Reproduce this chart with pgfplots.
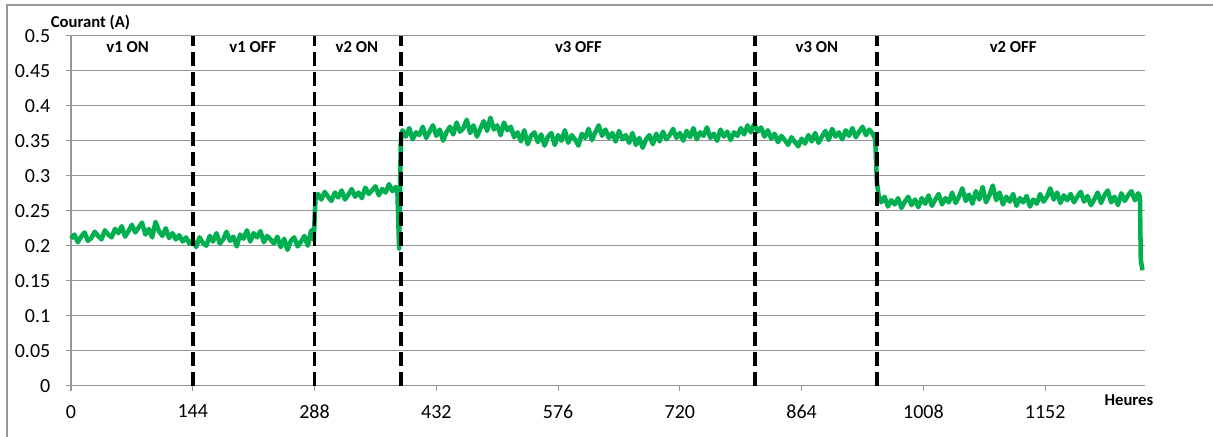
\documentclass[border=0pt]{standalone}
\usepackage{pgfplots}
\pgfplotsset{compat=1.18}
\usepackage{fontspec}
\setmainfont{Carlito}
\definecolor{exgreen}{RGB}{0,176,80}
\definecolor{gridgray}{RGB}{150,150,150}
\begin{document}
\begin{tikzpicture}
\path[use as bounding box] (-53.25pt,-37.7pt) rectangle (856.5pt,289.3pt);
\begin{axis}[
  at={(0,0)}, anchor=origin,
  width=805.5pt, height=262.5pt, scale only axis,
  xmin=0, xmax=1270, ymin=0, ymax=0.5,
  axis x line*=bottom, axis y line*=left,
  axis line style={gridgray, line width=0.9pt, -},
  xtick={0,144,288,432,576,720,864,1008,1152},
  xticklabels={0,144,288,432,576,720,864,1008,1152},
  ytick={0,0.05,0.1,0.15,0.2,0.25,0.3,0.35,0.4,0.45,0.5},
  yticklabels={0,0.05,0.1,0.15,0.2,0.25,0.3,0.35,0.4,0.45,0.5},
  ymajorgrids, grid style={gridgray, line width=0.9pt},
  tick align=outside, major tick length=4pt,
  tick style={gridgray, line width=0.9pt},
  /pgf/number format/assume math mode=true,
  ticklabel style={font=\fontsize{15}{18}\selectfont},
  xticklabel style={yshift=-7pt},
  yticklabel style={xshift=-8pt},
  clip=false,
]
\addplot[exgreen, line width=3.4pt, line join=round] coordinates {
(0,0.210)(4,0.216)(8,0.205)(12,0.213)(16,0.219)(20,0.207)(24,0.211)(28,0.220)(32,0.214)(36,0.209)
(40,0.222)(44,0.216)(48,0.212)(52,0.224)(56,0.218)(60,0.228)(64,0.213)(68,0.221)(72,0.230)(76,0.219)
(80,0.226)(84,0.233)(88,0.216)(92,0.224)(96,0.212)(100,0.234)(104,0.221)(108,0.214)(112,0.225)(116,0.211)
(120,0.218)(124,0.209)(128,0.215)(132,0.206)(136,0.212)(140,0.203)
(144,0.208)(148,0.198)(152,0.212)(156,0.204)(160,0.200)(164,0.214)(168,0.206)(172,0.218)(176,0.203)
(180,0.209)(184,0.220)(188,0.207)(192,0.213)(196,0.199)(200,0.216)(204,0.210)(208,0.222)(212,0.206)
(216,0.218)(220,0.212)(224,0.221)(228,0.205)(232,0.214)(236,0.209)(240,0.203)(244,0.213)(248,0.198)
(252,0.210)(256,0.194)(260,0.207)(264,0.212)(268,0.199)(272,0.206)(276,0.214)(280,0.200)(284,0.222)
(287,0.208)(289,0.265)
(292,0.274)(296,0.266)(300,0.277)(304,0.270)(308,0.264)(312,0.276)(316,0.269)(320,0.279)(324,0.266)
(328,0.273)(332,0.281)(336,0.270)(340,0.276)(344,0.268)(348,0.283)(352,0.274)(356,0.279)(360,0.285)
(364,0.272)(368,0.281)(372,0.276)(376,0.288)(380,0.278)(384,0.284)(386,0.275)(388,0.196)(390,0.350)
(392,0.365)(396,0.356)(400,0.368)(404,0.352)(408,0.362)(412,0.358)(416,0.370)(420,0.354)(424,0.363)
(428,0.372)(432,0.357)(436,0.366)(440,0.350)(444,0.362)(448,0.370)(452,0.359)(456,0.376)(460,0.363)
(464,0.368)(468,0.380)(472,0.361)(476,0.372)(480,0.356)(484,0.367)(488,0.378)(492,0.364)(496,0.383)
(500,0.366)(504,0.372)(508,0.358)(512,0.376)(516,0.365)(520,0.370)(524,0.355)(528,0.362)(532,0.349)
(536,0.365)(540,0.345)(544,0.357)(548,0.362)(552,0.348)(556,0.359)(560,0.343)(564,0.356)(568,0.361)
(572,0.344)(576,0.358)(580,0.350)(584,0.365)(588,0.347)(592,0.358)(596,0.352)(600,0.343)(604,0.360)
(608,0.354)(612,0.367)(616,0.351)(620,0.362)(624,0.372)(628,0.357)(632,0.366)(636,0.354)(640,0.361)
(644,0.349)(648,0.364)(652,0.352)(656,0.358)(660,0.347)(664,0.361)(668,0.344)(672,0.354)(676,0.340)
(680,0.352)(684,0.358)(688,0.345)(692,0.360)(696,0.349)(700,0.363)(704,0.352)(708,0.358)(712,0.367)
(716,0.354)(720,0.361)(724,0.350)(728,0.364)(732,0.355)(736,0.368)(740,0.352)(744,0.362)(748,0.357)
(752,0.369)(756,0.354)(760,0.360)(764,0.350)(768,0.366)(772,0.356)(776,0.363)(780,0.351)(784,0.362)
(788,0.357)(792,0.368)(796,0.359)(800,0.372)(804,0.362)(808,0.374)(812,0.363)(816,0.369)(820,0.356)
(824,0.365)(828,0.353)(832,0.360)(836,0.348)(840,0.357)(844,0.351)(848,0.344)(852,0.355)(856,0.348)
(860,0.342)(864,0.353)(868,0.346)(872,0.358)(876,0.349)(880,0.361)(884,0.347)(888,0.356)(892,0.364)
(896,0.351)(900,0.367)(904,0.356)(908,0.362)(912,0.352)(916,0.365)(920,0.357)(924,0.368)(928,0.355)
(932,0.363)(936,0.370)(940,0.358)(944,0.366)(948,0.360)(951,0.352)(953,0.290)(955,0.272)
(958,0.262)(962,0.270)(966,0.256)(970,0.265)(974,0.259)(978,0.268)(982,0.254)(986,0.263)(990,0.270)
(994,0.258)(998,0.266)(1002,0.255)(1006,0.268)(1010,0.260)(1014,0.272)(1018,0.257)(1022,0.266)
(1026,0.274)(1030,0.259)(1034,0.268)(1038,0.262)(1042,0.276)(1046,0.261)(1050,0.270)(1054,0.282)
(1058,0.264)(1062,0.273)(1066,0.260)(1070,0.278)(1074,0.266)(1078,0.284)(1082,0.262)(1086,0.272)
(1090,0.286)(1094,0.265)(1098,0.276)(1102,0.259)(1106,0.270)(1110,0.263)(1114,0.274)(1118,0.257)
(1122,0.268)(1126,0.262)(1130,0.271)(1134,0.256)(1138,0.266)(1142,0.260)(1146,0.274)(1150,0.263)
(1154,0.270)(1158,0.282)(1162,0.266)(1166,0.276)(1170,0.261)(1174,0.272)(1178,0.265)(1182,0.274)
(1186,0.262)(1190,0.270)(1194,0.277)(1198,0.263)(1202,0.271)(1206,0.258)(1210,0.266)(1214,0.276)
(1218,0.261)(1222,0.272)(1226,0.279)(1230,0.262)(1234,0.270)(1238,0.258)(1242,0.275)(1246,0.264)
(1250,0.272)(1254,0.278)(1258,0.265)(1262,0.275)(1264,0.270)(1265,0.180)(1267,0.165)
};
\addplot[black, line width=2.6pt, dash pattern=on 10pt off 5pt] coordinates {(144,0) (144,0.5)};
\addplot[black, line width=2.6pt, dash pattern=on 10pt off 5pt] coordinates {(288,0) (288,0.5)};
\addplot[black, line width=2.6pt, dash pattern=on 10pt off 5pt] coordinates {(390,0) (390,0.5)};
\addplot[black, line width=2.6pt, dash pattern=on 10pt off 5pt] coordinates {(809,0) (809,0.5)};
\addplot[black, line width=2.6pt, dash pattern=on 10pt off 5pt] coordinates {(953,0) (953,0.5)};
\begin{scope}[every node/.style={font=\bfseries\fontsize{12.5}{14}\selectfont}]
\node at (axis cs:67,0.484) {v1 ON};
\node at (axis cs:215,0.484) {v1 OFF};
\node at (axis cs:338,0.484) {v2 ON};
\node at (axis cs:600,0.484) {v3 OFF};
\node at (axis cs:882,0.484) {v3 ON};
\node at (axis cs:1114,0.484) {v2 OFF};
\node at (axis cs:23,0.5186) {Courant (A)};
\node at (axis cs:1251,-0.0204) {Heures};
\end{scope}
\end{axis}
\draw[gridgray, line width=0.9pt] (-48pt,-40pt) -- (-48pt,285.5pt) -- (860pt,285.5pt);
\end{tikzpicture}
\end{document}
